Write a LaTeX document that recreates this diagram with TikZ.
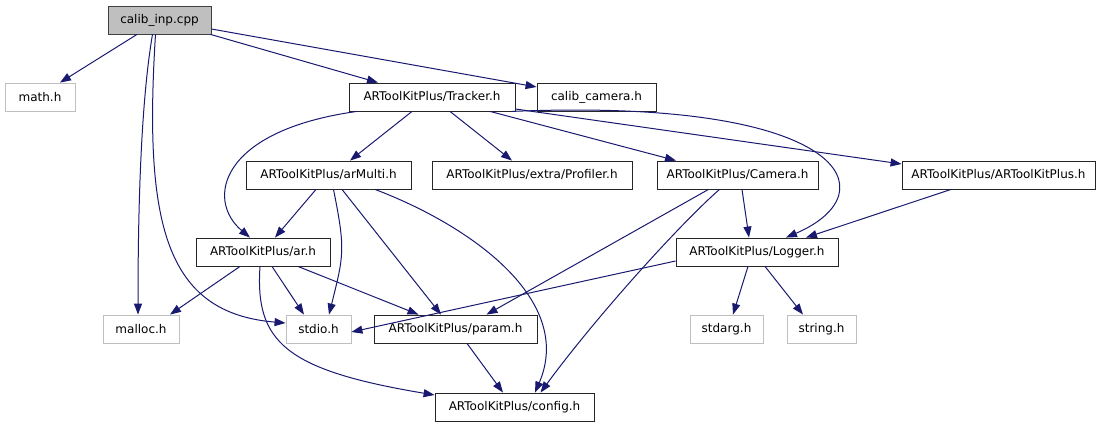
\documentclass[tikz,border=0pt]{standalone}
\usepackage{fontspec}
\setmainfont{DejaVu Sans}
\usetikzlibrary{arrows.meta}
\definecolor{edgeblue}{HTML}{191970}
\definecolor{boxgray}{HTML}{BFBFBF}

\begin{document}
\begin{tikzpicture}[x=1pt,y=-1pt,
  every node/.style={font=\fontsize{12}{14}\selectfont},
  file/.style={draw=black!85,line width=0.85pt,minimum height=28pt,inner sep=0pt},
  sysfile/.style={file,draw=boxgray},
  mainfile/.style={file,fill=boxgray,draw=black!75},
  dep/.style={draw=edgeblue,line width=1pt,-{Triangle[length=11pt,width=8pt]}}]
  \useasboundingbox (0,0) rectangle (1112,427);

  \node[mainfile,minimum width=103pt] (cpp) at (159.5,20) {calib\_inp.cpp};
  \node[sysfile,minimum width=70pt] (math) at (40,97) {math.h};
  \node[file,minimum width=166pt] (tracker) at (432,97) {ARToolKitPlus/Tracker.h};
  \node[file,minimum width=119pt] (calibcam) at (596.5,97) {calib\_camera.h};
  \node[file,minimum width=165pt] (armulti) at (328.5,175) {ARToolKitPlus/arMulti.h};
  \node[file,minimum width=200pt] (profiler) at (532,175) {ARToolKitPlus/extra/Profiler.h};
  \node[file,minimum width=161pt] (camera) at (737.5,175) {ARToolKitPlus/Camera.h};
  \node[file,minimum width=193pt] (arplus) at (998.5,175) {ARToolKitPlus/ARToolKitPlus.h};
  \node[file,minimum width=134pt] (ar) at (263,252) {ARToolKitPlus/ar.h};
  \node[file,minimum width=162pt] (logger) at (757,252) {ARToolKitPlus/Logger.h};
  \node[sysfile,minimum width=76pt] (malloc) at (141,329) {malloc.h};
  \node[sysfile,minimum width=65pt] (stdio) at (318.5,329) {stdio.h};
  \node[file,minimum width=163pt] (param) at (455.5,329) {ARToolKitPlus/param.h};
  \node[sysfile,minimum width=73pt] (stdarg) at (726.5,329) {stdarg.h};
  \node[sysfile,minimum width=69pt] (string) at (821.5,329) {string.h};
  \node[file,minimum width=159pt] (config) at (514.5,407) {ARToolKitPlus/config.h};

  \draw[dep] ([xshift=-22.5pt]cpp.south) -- ([xshift=20pt]math.north);
  \draw[dep] ([xshift=-7pt]cpp.south) .. controls +(-12,70) and +(0,-100) .. ([xshift=-3pt]malloc.north);
  \draw[dep] ([xshift=-4pt]cpp.south) .. controls +(-12,190) and +(-120,-10) .. ([yshift=6pt]stdio.west);
  \draw[dep] ([xshift=51pt]cpp.south) -- ([xshift=-54pt]tracker.north);
  \draw[dep] ([yshift=-9pt]cpp.east) -- ([yshift=10pt]calibcam.west);

  \draw[dep] ([xshift=-20pt]tracker.south) -- ([xshift=21.5pt]armulti.north);
  \draw[dep] ([xshift=18pt]tracker.south) -- ([xshift=-20pt]profiler.north);
  \draw[dep] ([xshift=58pt]tracker.south) -- ([xshift=-61.5pt]camera.north);
  \draw[dep] ([yshift=-12pt]tracker.east) -- ([yshift=11pt]arplus.west);
  \draw[dep] ([xshift=80pt]tracker.south) .. controls +(335,-14) and +(105,-45) .. ([xshift=29pt]logger.north);
  \draw[dep] ([xshift=-75pt]tracker.south) .. controls +(-137,19) and +(-45,-38) .. ([xshift=-13pt]ar.north);

  \draw[dep] ([xshift=-12.5pt]armulti.south) -- ([xshift=12pt]ar.north);
  \draw[dep] ([xshift=5pt]armulti.south) .. controls +(12,60) and +(15,-60) .. ([xshift=10.5pt]stdio.north);
  \draw[dep] ([xshift=13.5pt]armulti.south) -- ([xshift=-14.5pt]param.north);
  \draw[dep] ([xshift=46.5pt]armulti.south) .. controls +(95,36) and +(40,-93) .. ([xshift=20.5pt]config.north);

  \draw[dep] ([xshift=-23pt]ar.south) -- ([xshift=29pt]malloc.north);
  \draw[dep] ([xshift=9pt]ar.south) -- ([xshift=-14.5pt]stdio.north);
  \draw[dep] ([xshift=35pt]ar.south) -- ([xshift=-37pt]param.north);
  \draw[dep] ([xshift=-3pt]ar.south) .. controls +(-5,75) and +(-150,-25) .. ([yshift=12pt]config.west);

  \draw[dep] ([xshift=11.5pt]param.south) -- ([xshift=-11.5pt]config.north);

  \draw[dep] ([xshift=-29pt]camera.south) -- ([xshift=31pt]param.north);
  \draw[dep] ([xshift=-18pt]camera.south) .. controls +(-40,35) and +(55,-75) .. ([xshift=26pt]config.north);
  \draw[dep] ([xshift=4.5pt]camera.south) -- ([xshift=-8pt]logger.north);
  \draw[dep] ([xshift=-47.5pt]arplus.south) -- ([xshift=49pt]logger.north);

  \draw[dep] ([yshift=-9pt]logger.west) -- ([yshift=-3pt]stdio.east);
  \draw[dep] ([xshift=-9pt]logger.south) -- ([xshift=6.5pt]stdarg.north);
  \draw[dep] ([xshift=8pt]logger.south) -- ([xshift=-18.5pt]string.north);
\end{tikzpicture}
\end{document}
